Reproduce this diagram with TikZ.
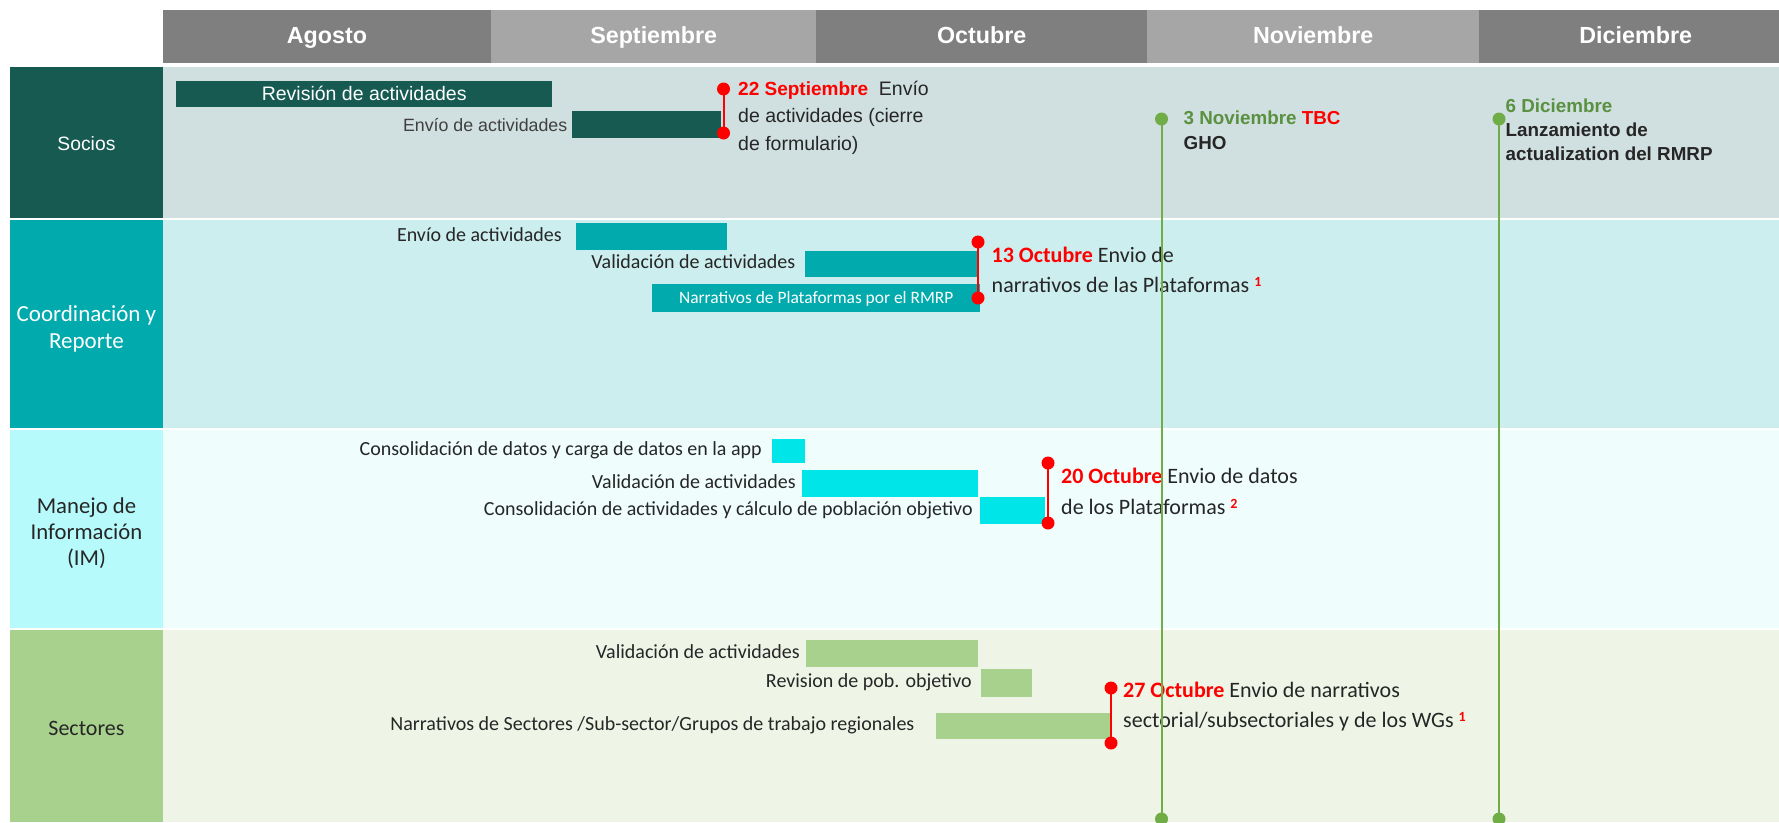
\documentclass[tikz,border=0pt]{standalone}
\usepackage{fontspec}
\setmainfont{Carlito}
\newfontfamily\lib{Liberation Sans}
\definecolor{hdark}{HTML}{7F7F7F}
\definecolor{hlight}{HTML}{A6A6A6}
\definecolor{soc}{HTML}{165A52}
\definecolor{socbg}{HTML}{D0DFDF}
\definecolor{coo}{HTML}{00AAAD}
\definecolor{coobg}{HTML}{CCEEEE}
\definecolor{iml}{HTML}{B7FAFC}
\definecolor{imbg}{HTML}{EFFDFD}
\definecolor{imbar}{HTML}{00E5E8}
\definecolor{sec}{HTML}{A9D18E}
\definecolor{secbg}{HTML}{EEF5E6}
\definecolor{gline}{HTML}{70AD47}
\definecolor{gtext}{HTML}{5A9140}
\definecolor{txt}{HTML}{262626}
\definecolor{txtg}{HTML}{404040}
\definecolor{mred}{HTML}{FF0000}
\newcommand\fs[2]{\fontsize{#1}{#2}\selectfont}
\newcommand\supr[1]{\raisebox{6pt}{\textcolor{mred}{\fs{14}{14}\bfseries #1}}}
\begin{document}
\begin{tikzpicture}[x=1pt,y=-1pt,
  cell/.style={inner sep=0, anchor=north west, text=white, font=\lib\bfseries\fs{23.3}{28}, text height=17.5pt, text depth=3.2pt, minimum height=52.7pt},
  lane/.style={inner sep=0, anchor=north west, minimum width=152.5pt},
  lanetxt/.style={inner sep=0, anchor=center, align=center},
  gbar/.style={inner sep=0, anchor=north west},
  lbl/.style={inner sep=0, anchor=base east, yshift=-4.7pt, text=txt, font=\fs{20}{24}},
  intxt/.style={inner sep=0, anchor=base, text=white},
  rdot/.style={circle, fill=mred, inner sep=0, minimum size=13pt},
  gdot/.style={circle, fill=gline, inner sep=0, minimum size=13pt},
  rline/.style={draw=mred, line width=2pt},
  glineS/.style={draw=gline, line width=2pt},
  mtxt/.style={inner sep=0, anchor=base west, text=txt, font=\fs{22}{30}},
  stxt/.style={inner sep=0, anchor=base west, text=txt, font=\lib\fs{19.5}{24}},
  gtxt/.style={inner sep=0, anchor=base west, text=txt, font=\lib\bfseries\fs{18.8}{24}},
]
\useasboundingbox (0,0) rectangle (1779,822);
\fill[white] (0,0) rectangle (1779,822);

% header
\node[cell, fill=hdark, minimum width=328.5pt] (hAgo) at (162.5,10) {Agosto};
\node[cell, fill=hlight, minimum width=325pt] (hSep) at (491,10) {Septiembre};
\node[cell, fill=hdark, minimum width=331pt] (hOct) at (816,10) {Octubre};
\node[cell, fill=hlight, minimum width=332pt] (hNov) at (1147,10) {Noviembre};
\node[cell, fill=hdark, minimum width=313pt] (hDic) at (1479,10) {Diciembre};

% bands
\fill[socbg] (162.5,66.7) rectangle (1779,219);
\fill[coobg] (162.5,219) rectangle (1779,429);
\fill[imbg] (162.5,429) rectangle (1779,629);
\fill[secbg] (162.5,629) rectangle (1779,822);

% lane boxes
\node[lane, fill=soc, minimum height=152.3pt] (lSoc) at (10,66.7) {};
\node[lane, fill=coo, minimum height=210pt] (lCoo) at (10,219) {};
\node[lane, fill=iml, minimum height=200pt] (lIM) at (10,429) {};
\node[lane, fill=sec, minimum height=193pt] (lSec) at (10,629) {};
\node[lanetxt, text=white, font=\lib\fs{19.3}{24}, yshift=-1pt] (tSoc) at (lSoc.center) {Socios};
\node[lanetxt, text=white, font=\fs{23}{26.7}, yshift=-5pt] (tCoo) at (lCoo.center) {Coordinación y\\Reporte};
\node[lanetxt, text=txt, font=\fs{22.7}{26}, yshift=-4pt] (tIM) at (lIM.center) {Manejo de\\Información\\(IM)};
\node[lanetxt, text=txt, font=\fs{22}{26}, yshift=-3pt] (tSec) at (lSec.center) {Sectores};

\foreach \yy in {219,429,629} \draw[white, line width=1.5pt] (10,\yy) -- (1779,\yy);

% Socios bars
\node[gbar, fill=soc, minimum width=376pt, minimum height=26pt] (s1) at (176,81) {};
\node[intxt, font=\lib\fs{19.5}{24}, yshift=-6pt] (s1t) at (s1.center) {Revisión de actividades};
\node[gbar, fill=soc, minimum width=149pt, minimum height=27pt] (s2) at (572,111) {};
\node[lbl, font=\lib\fs{17.8}{22}, text=txtg, yshift=-1.8pt] (s2l) at ([xshift=-4.5pt]s2.west) {Envío de actividades};

% Coordinacion bars
\node[gbar, fill=coo, minimum width=151pt, minimum height=27pt] (c1) at (576,223) {};
\node[lbl] (c1l) at ([xshift=-14pt]c1.west) {Envío de actividades};
\node[gbar, fill=coo, minimum width=173pt, minimum height=26pt] (c2) at (805,251) {};
\node[lbl] (c2l) at ([xshift=-9.5pt]c2.west) {Validación de actividades};
\node[gbar, fill=coo, minimum width=328pt, minimum height=28pt] (c3) at (652,284) {};
\node[intxt, font=\fs{17.4}{20}, yshift=-5.3pt] (c3t) at (c3.center) {Narrativos de Plataformas por el RMRP};

% IM bars
\node[gbar, fill=imbar, minimum width=33pt, minimum height=24pt] (i1) at (772,439) {};
\node[lbl] (i1l) at ([xshift=-10pt]i1.west) {Consolidación de datos y carga de datos en la app};
\node[gbar, fill=imbar, minimum width=176pt, minimum height=27pt] (i2) at (802,470) {};
\node[lbl] (i2l) at ([xshift=-6pt]i2.west) {Validación de actividades};
\node[gbar, fill=imbar, minimum width=65pt, minimum height=27pt] (i3) at (980,497) {};
\node[lbl] (i3l) at ([xshift=-7pt]i3.west) {Consolidación de actividades y cálculo de población objetivo};

% Sectores bars
\node[gbar, fill=sec, minimum width=172pt, minimum height=27pt] (e1) at (806,640) {};
\node[lbl] (e1l) at ([xshift=-6pt]e1.west) {Validación de actividades};
\node[gbar, fill=sec, minimum width=51pt, minimum height=28pt] (e2) at (981,669) {};
\node[lbl] (e2l) at ([xshift=-9pt]e2.west) {Revision de pob. objetivo};
\node[gbar, fill=sec, minimum width=174pt, minimum height=26pt] (e3) at (936,713) {};
\node[lbl] (e3l) at ([xshift=-21.5pt]e3.west) {Narrativos de Sectores /Sub-sector/Grupos de trabajo regionales};

% red milestones
\node[rdot] (r1a) at (723.5,89) {};
\node[rdot] (r1b) at (723.5,133) {};
\draw[rline] (r1a.center) -- (r1b.center);
\node[stxt] (r1t1) at (738,95) {\textcolor{mred}{\bfseries\fs{19}{24}22 Septiembre}\ \ Envío};
\node[stxt] (r1t2) at ([yshift=-27.5pt]r1t1.base west) {de actividades (cierre};
\node[stxt] (r1t3) at ([yshift=-27.5pt]r1t2.base west) {de formulario)};

\node[rdot] (r2a) at (978,242) {};
\node[rdot] (r2b) at (978,298) {};
\draw[rline] (r2a.center) -- (r2b.center);
\node[mtxt] (r2t1) at (991.5,262) {\textcolor{mred}{\bfseries 13 Octubre} Envio de};
\node[mtxt] (r2t2) at ([yshift=-30pt]r2t1.base west) {narrativos de las Plataformas \supr{1}};

\node[rdot] (r3a) at (1048,463) {};
\node[rdot] (r3b) at (1048,523) {};
\draw[rline] (r3a.center) -- (r3b.center);
\node[mtxt] (r3t1) at (1061,483) {\textcolor{mred}{\bfseries 20 Octubre} Envio de datos};
\node[mtxt] (r3t2) at ([yshift=-31pt]r3t1.base west) {de los Plataformas \supr{2}};

\node[rdot] (r4a) at (1111,688) {};
\node[rdot] (r4b) at (1111,743) {};
\draw[rline] (r4a.center) -- (r4b.center);
\node[mtxt] (r4t1) at (1123,697) {\textcolor{mred}{\bfseries 27 Octubre} Envio de narrativos};
\node[mtxt] (r4t2) at ([yshift=-30pt]r4t1.base west) {sectorial/subsectoriales y de los WGs \supr{1}};

% green milestones
\node[gdot] (g1a) at (1161.5,119) {};
\node[gdot] (g1b) at (1161.5,819) {};
\draw[glineS] (g1a.center) -- (g1b.center);
\node[gtxt] (g1t1) at (1183.5,124.5) {\textcolor{gtext}{3 Noviembre} \textcolor{mred}{TBC}};
\node[gtxt] (g1t2) at ([yshift=-24.5pt]g1t1.base west) {GHO};

\node[gdot] (g2a) at (1499,119) {};
\node[gdot] (g2b) at (1499,819) {};
\draw[glineS] (g2a.center) -- (g2b.center);
\node[gtxt] (g2t1) at (1505.5,112.7) {\textcolor{gtext}{6 Diciembre}};
\node[gtxt] (g2t2) at ([yshift=-24pt]g2t1.base west) {Lanzamiento de};
\node[gtxt] (g2t3) at ([yshift=-24pt]g2t2.base west) {actualization del RMRP};
\end{tikzpicture}
\end{document}
